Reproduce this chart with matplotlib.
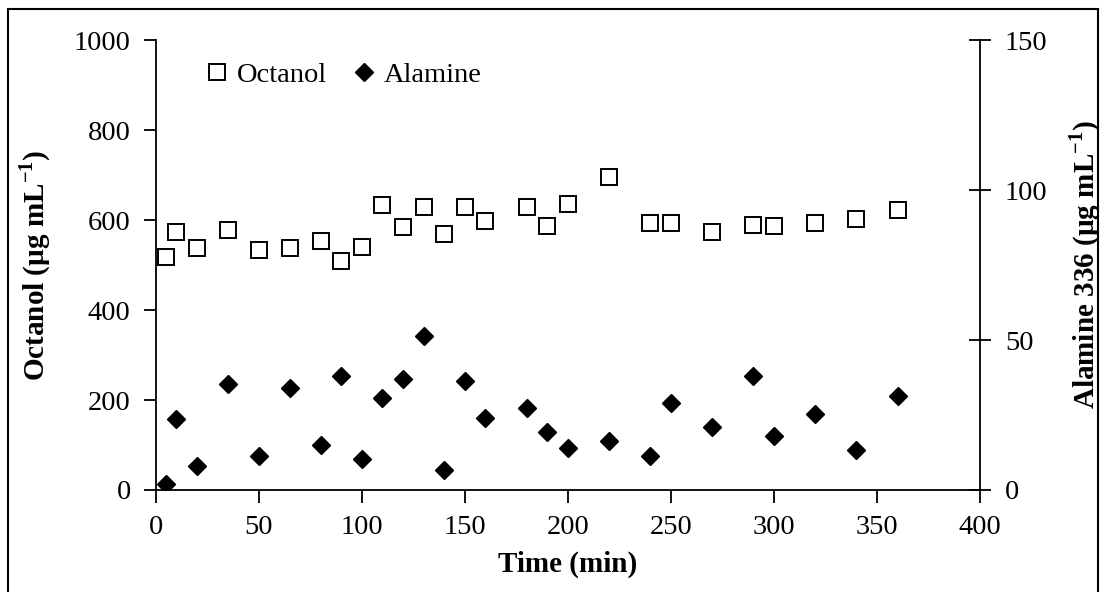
import matplotlib
matplotlib.use("Agg")
import matplotlib.pyplot as plt
from matplotlib.lines import Line2D
from matplotlib.patches import Rectangle

plt.rcParams["font.family"] = ["Liberation Serif", "DejaVu Serif"]
plt.rcParams["mathtext.fontset"] = "custom"
plt.rcParams["mathtext.rm"] = "Liberation Serif"
plt.rcParams["mathtext.bf"] = "Liberation Serif:bold"

# data
time_min = [5, 10, 20, 35, 50, 65, 80, 90, 100, 110, 120, 130, 140, 150, 160,
            180, 190, 200, 220, 240, 250, 270, 290, 300, 320, 340, 360]
octanol = [517, 574, 537, 578, 533, 537, 553, 509, 541, 633, 585, 630, 569, 630, 598,
           630, 587, 635, 695, 594, 594, 574, 590, 586, 594, 602, 622]
alamine = [1.9, 23.6, 8.0, 35.2, 11.4, 33.9, 15.0, 38.1, 10.3, 30.8, 36.9, 51.4, 6.7, 36.3, 24.1,
           27.2, 19.4, 13.9, 16.3, 11.4, 29.1, 21.1, 38.1, 18.1, 25.3, 13.3, 31.4]

x_ticks = [0, 50, 100, 150, 200, 250, 300, 350, 400]
left_ticks = [0, 200, 400, 600, 800, 1000]
right_ticks = [0, 50, 100, 150]

FS = 20.5     # tick labels / legend
LFS = 21      # axis titles (bold)
fig = plt.figure(figsize=(11.04, 5.92), dpi=100)
fig.patch.set_facecolor("white")
ax = fig.add_axes([0.141, 0.1723, 0.7467, 0.7601])
ax2 = ax.twinx()

ax.plot(time_min, octanol, linestyle="none", marker="s", markersize=11.5,
        markerfacecolor="white", markeredgecolor="black", markeredgewidth=1.4, zorder=3)
ax2.plot(time_min, alamine, linestyle="none", marker="D", markersize=9.6,
         markerfacecolor="black", markeredgecolor="black", zorder=3)

ax.set_xlim(0, 400)
ax.set_ylim(0, 1000)
ax2.set_ylim(0, 150)
ax.set_xticks(x_ticks)
ax.set_yticks(left_ticks)
ax2.set_yticks(right_ticks)

for a in (ax, ax2):
    a.spines["top"].set_visible(False)
    for s in a.spines.values():
        s.set_linewidth(1.3)
ax.spines["right"].set_visible(False)
ax2.spines["left"].set_visible(False)
ax2.spines["bottom"].set_visible(False)

ax.tick_params(axis="both", direction="out", length=9, width=1.3, labelsize=FS)
ax.tick_params(axis="y", pad=9)
ax.tick_params(axis="x", pad=9)
ax2.tick_params(axis="y", direction="inout", length=16, width=1.3, labelsize=FS, pad=10)

ax.set_xlabel("Time (min)", fontsize=LFS, fontweight="bold")
ax.xaxis.set_label_coords(0.5, -0.135)
ax.set_ylabel(r"Octanol (µg mL$^{\mathbf{-1}}$)", fontsize=LFS, fontweight="bold")
ax.yaxis.set_label_coords(-0.124, 0.5)
ax2.set_ylabel(r"Alamine 336 (µg mL$^{\mathbf{-1}}$)", fontsize=LFS, fontweight="bold")
ax2.yaxis.set_label_coords(1.106, 0.5)

handles = [
    Line2D([], [], linestyle="none", marker="s", markersize=11.5, markerfacecolor="white",
           markeredgecolor="black", markeredgewidth=1.4),
    Line2D([], [], linestyle="none", marker="D", markersize=9.6, markerfacecolor="black",
           markeredgecolor="black"),
]
ax.legend(handles, ["Octanol", "Alamine"], loc="center left", bbox_to_anchor=(0.0607, 0.922),
          ncol=2, frameon=False, fontsize=FS, handlelength=0.8, handletextpad=0.3,
          columnspacing=0.9, borderpad=0, borderaxespad=0)

# outer frame
fig.add_artist(Rectangle((8 / 1104, -0.02), 1090 / 1104, 1 - 9 / 592 + 0.02,
                         transform=fig.transFigure, fill=False, edgecolor="black",
                         linewidth=1.5))

fig.savefig("out.png", dpi=100, facecolor="white")
